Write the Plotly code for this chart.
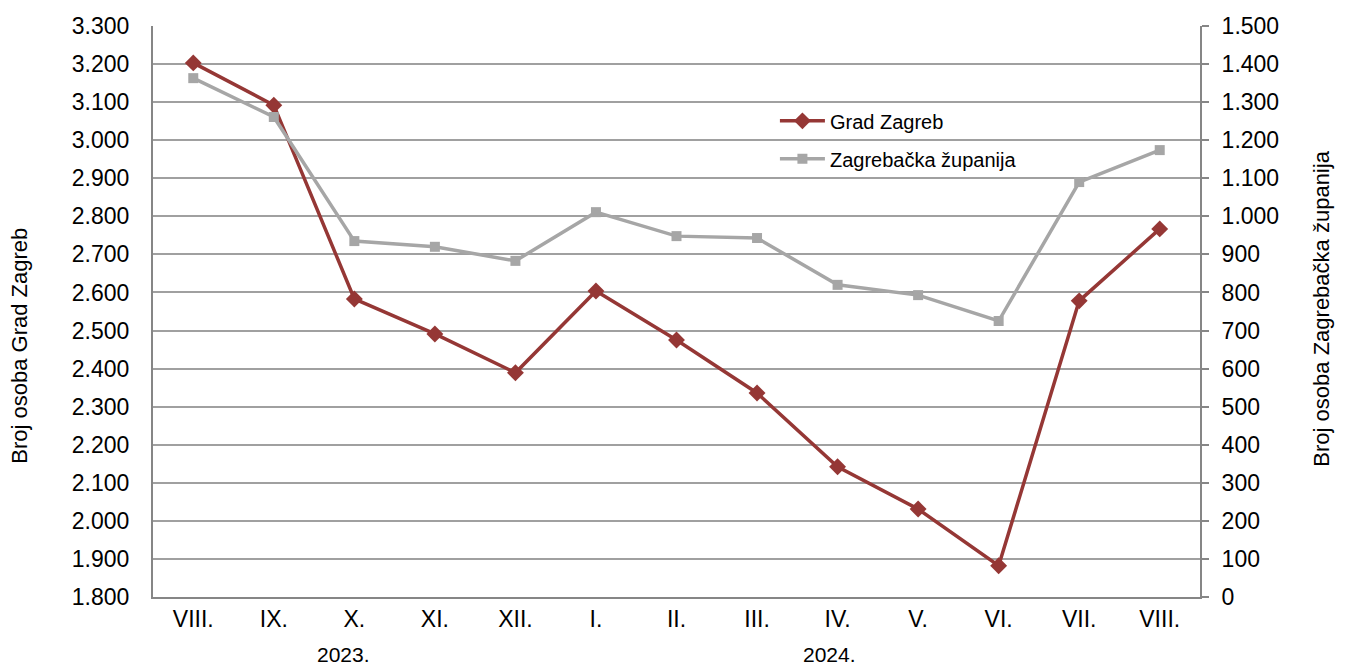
import plotly.graph_objects as go

# podaci
mjeseci = ['VIII.', 'IX.', 'X.', 'XI.', 'XII.', 'I.', 'II.', 'III.', 'IV.', 'V.', 'VI.', 'VII.', 'VIII.']
pozicije = list(range(len(mjeseci)))
grad_zagreb = [3203, 3092, 2583, 2491, 2389, 2604, 2475, 2336, 2142, 2031, 1882, 2578, 2767]
zagrebacka_zupanija = [1363, 1261, 935, 920, 883, 1011, 948, 943, 820, 793, 725, 1090, 1174]
godine = ['2023.', '2024.']
godine_poz = [1.86, 7.9]

lijevi_tickovi = list(range(1800, 3301, 100))
desni_tickovi = list(range(0, 1501, 100))

def fmt(v):
    return f'{v:,}'.replace(',', '.')

CRVENA = '#953735'
SIVA = '#A6A6A6'
FONT = 'Liberation Sans, Arial, sans-serif'

fig = go.Figure()

fig.add_trace(go.Scatter(
    x=pozicije, y=grad_zagreb, name='Grad Zagreb', mode='lines+markers',
    line=dict(color=CRVENA, width=3.5),
    marker=dict(symbol='diamond', size=13, color=CRVENA),
    legendgroup='a', yaxis='y'))

fig.add_trace(go.Scatter(
    x=pozicije, y=zagrebacka_zupanija, name='Zagrebačka županija', mode='lines+markers',
    line=dict(color=SIVA, width=3.5),
    marker=dict(symbol='square', size=10, color=SIVA),
    legendgroup='b', yaxis='y2'))

# godine ispod mjeseci
for g, p in zip(godine, godine_poz):
    fig.add_annotation(x=p, y=0, xref='x', yref='paper', yanchor='middle', yshift=-57,
                       text=g, showarrow=False, borderpad=0,
                       font=dict(size=21, color='black', family=FONT))

# naslovi osi
fig.add_annotation(x=0, xref='paper', xanchor='center', xshift=-133,
                   y=0.44, yref='paper', yanchor='middle', textangle=-90,
                   text='Broj osoba Grad Zagreb', showarrow=False,
                   font=dict(size=22, color='black', family=FONT))
fig.add_annotation(x=1, xref='paper', xanchor='center', xshift=122,
                   y=0.505, yref='paper', yanchor='middle', textangle=-90,
                   text='Broj osoba Zagrebačka županija', showarrow=False,
                   font=dict(size=22, color='black', family=FONT))

# stranica ima marginu od 8 px, pa je figura toliko manja
fig.update_layout(
    width=1337, height=660,
    margin=dict(l=145, r=145, t=18, b=71),
    plot_bgcolor='white', paper_bgcolor='white',
    font=dict(family=FONT, size=23, color='black'),
    showlegend=True,
    legend=dict(x=0.594, y=0.868, xanchor='left', yanchor='top',
                bgcolor='rgba(0,0,0,0)', font=dict(size=20),
                itemwidth=45, tracegroupgap=9, traceorder='grouped'),
    xaxis=dict(range=[-0.5, 12.5], tickvals=pozicije, ticktext=mjeseci,
               showgrid=False, zeroline=False, showline=True, linecolor='#868686',
               linewidth=2, ticks='', tickfont=dict(size=23), automargin=False),
    yaxis=dict(range=[1800, 3300], tickvals=lijevi_tickovi,
               ticktext=[fmt(v) for v in lijevi_tickovi],
               showgrid=True, gridcolor='#A0A0A0', gridwidth=1.5, zeroline=False,
               showline=True, linecolor='#868686', linewidth=2, ticks='',
               ticklabelstandoff=17, tickfont=dict(size=23), automargin=False),
    yaxis2=dict(range=[0, 1500], tickvals=desni_tickovi,
                ticktext=[fmt(v) for v in desni_tickovi],
                overlaying='y', side='right', showgrid=False, zeroline=False,
                showline=True, linecolor='#868686', linewidth=2,
                ticks='outside', ticklen=7, tickcolor='#868686', tickwidth=1.5,
                ticklabelstandoff=8, tickfont=dict(size=23), automargin=False),
)

fig.write_html('out.html')
